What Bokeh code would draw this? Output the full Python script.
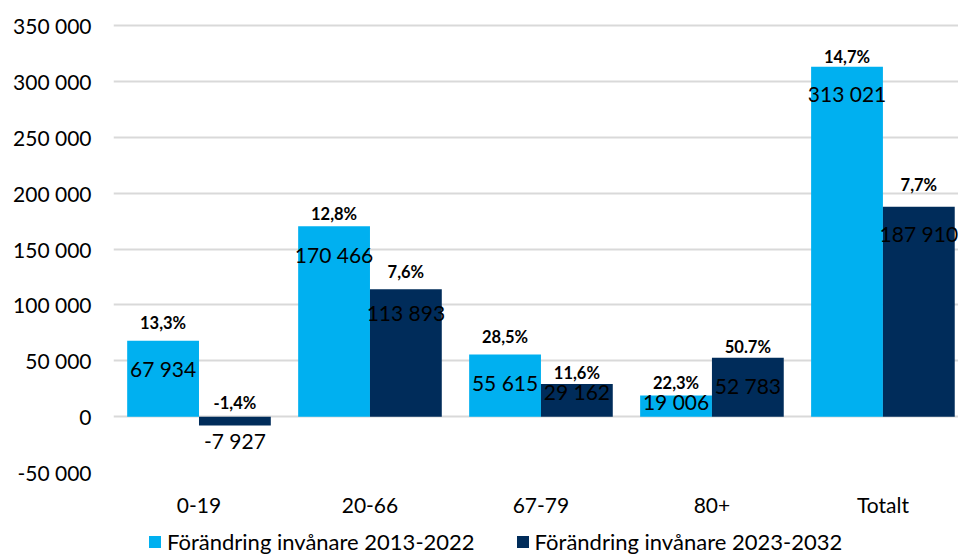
import numpy as np
from bokeh.plotting import figure
from bokeh.layouts import column
from bokeh.models import (ColumnDataSource, Range1d, FixedTicker, CustomJSTickFormatter,
                          Legend, LegendItem)
from bokeh.core.properties import value
from bokeh.embed import file_html
from bokeh.resources import INLINE

# ---- data ----
categories = ["0-19", "20-66", "67-79", "80+", "Totalt"]
change_2013_2022 = [67934, 170466, 55615, 19006, 313021]
change_2023_2032 = [-7927, 113893, 29162, 52783, 187910]
pct_2013_2022 = ["13,3%", "12,8%", "28,5%", "22,3%", "14,7%"]
pct_2023_2032 = ["-1,4%", "7,6%", "11,6%", "50.7%", "7,7%"]
series_names = ["Förändring invånare 2013-2022", "Förändring invånare 2023-2032"]
y_ticks = [-50000, 0, 50000, 100000, 150000, 200000, 250000, 300000, 350000]

# ---- label nudges (pixels, styling only) ----
val_off_1 = [28, 28, 28, 6, 27]
val_off_2 = [15, 23, 7, 28, 27]
pct_off_1 = [18, 12, 17, 12, 10]
pct_off_2 = [14, 17, 11, 11, 22]

LIGHT = "#00B0F0"
DARK = "#002C5A"
FONT = "Lato"

def fmt(v):
    s = f"{abs(v):,}".replace(",", " ")
    return ("-" if v < 0 else "") + s

idx = np.arange(len(categories)) + 0.5
bw = 0.42

src1 = ColumnDataSource(dict(
    x=idx - bw / 2, top=change_2013_2022,
    vy=change_2013_2022, vtxt=[fmt(v) for v in change_2013_2022], voff=val_off_1,
    py=[max(v, 0) for v in change_2013_2022], ptxt=pct_2013_2022,
    poff=[-o for o in pct_off_1]))
src2 = ColumnDataSource(dict(
    x=idx + bw / 2, top=change_2023_2032,
    vy=change_2023_2032, vtxt=[fmt(v) for v in change_2023_2032], voff=val_off_2,
    py=[max(v, 0) for v in change_2023_2032], ptxt=pct_2023_2032,
    poff=[-o for o in pct_off_2]))

W = 958
H_MAIN = 527
H_LEG = 30

p = figure(width=W, height=H_MAIN, output_backend="svg", toolbar_location=None,
           x_range=Range1d(0, 4.942), y_range=Range1d(-50000, 356264),
           min_border_left=113, min_border_right=0, min_border_top=18,
           min_border_bottom=55)
p.outline_line_color = None
p.background_fill_color = "white"

r1 = p.vbar(x="x", top="top", bottom=0, width=bw, source=src1,
            fill_color=LIGHT, line_color=None)
r2 = p.vbar(x="x", top="top", bottom=0, width=bw, source=src2,
            fill_color=DARK, line_color=None)

for src in (src1, src2):
    p.text(x="x", y="vy", text="vtxt", y_offset="voff", source=src,
           text_align="center", text_baseline="middle",
           text_font=value(FONT), text_font_size="21px", text_color="black")
    p.text(x="x", y="py", text="ptxt", y_offset="poff", source=src,
           text_align="center", text_baseline="middle",
           text_font=value(FONT), text_font_size="16.5px", text_font_style="bold",
           text_color="black")

# axes
p.yaxis.ticker = FixedTicker(ticks=y_ticks)
p.yaxis.formatter = CustomJSTickFormatter(code="""
    const s = Math.abs(Math.round(tick)).toString().replace(/\\B(?=(\\d{3})+(?!\\d))/g, ' ');
    return (tick < 0 ? '-' : '') + s;
""")
p.xaxis.ticker = FixedTicker(ticks=list(idx))
p.xaxis.major_label_overrides = {float(x): c for x, c in zip(idx, categories)}
for ax in (p.xaxis, p.yaxis):
    ax.axis_line_color = None
    ax.major_tick_line_color = None
    ax.minor_tick_line_color = None
    ax.major_tick_out = 0
    ax.major_tick_in = 0
    ax.major_label_text_font = FONT
    ax.major_label_text_font_size = "21px"
    ax.major_label_text_color = "#000000"
p.yaxis.major_label_standoff = 22
p.xaxis.major_label_standoff = 19

p.xgrid.grid_line_color = None
p.ygrid.ticker = FixedTicker(ticks=y_ticks)
p.ygrid.grid_line_color = "#D9D9D9"
p.ygrid.grid_line_width = 2

# ---- legend strip below the chart (frame aligned with the main chart) ----
lf = figure(width=W, height=H_LEG, output_backend="svg", toolbar_location=None,
            x_range=Range1d(0, 1), y_range=Range1d(0, 1),
            x_axis_location=None, y_axis_location=None,
            min_border=0)
lf.outline_line_color = None
lf.grid.grid_line_color = None
# legend-swatch renderers (kept outside the visible range)
lr1 = lf.vbar(x="x", top="top", width=0.1,
              source=ColumnDataSource(dict(x=[-5], top=[0])),
              fill_color=LIGHT, line_color=None)
lr2 = lf.vbar(x="x", top="top", width=0.1,
              source=ColumnDataSource(dict(x=[-5], top=[0])),
              fill_color=DARK, line_color=None)
legend = Legend(items=[LegendItem(label=series_names[0], renderers=[lr1]),
                       LegendItem(label=series_names[1], renderers=[lr2])],
                orientation="horizontal", location=(34, 2),
                label_text_font=FONT, label_text_font_size="22px",
                label_text_color="black",
                glyph_width=15, glyph_height=15, label_standoff=5, spacing=40,
                padding=0, margin=0, border_line_color=None,
                background_fill_alpha=0, label_height=20)
lf.add_layout(legend, "center")

layout = column(p, lf, spacing=0)
open("out.html", "w").write(file_html(layout, INLINE))
